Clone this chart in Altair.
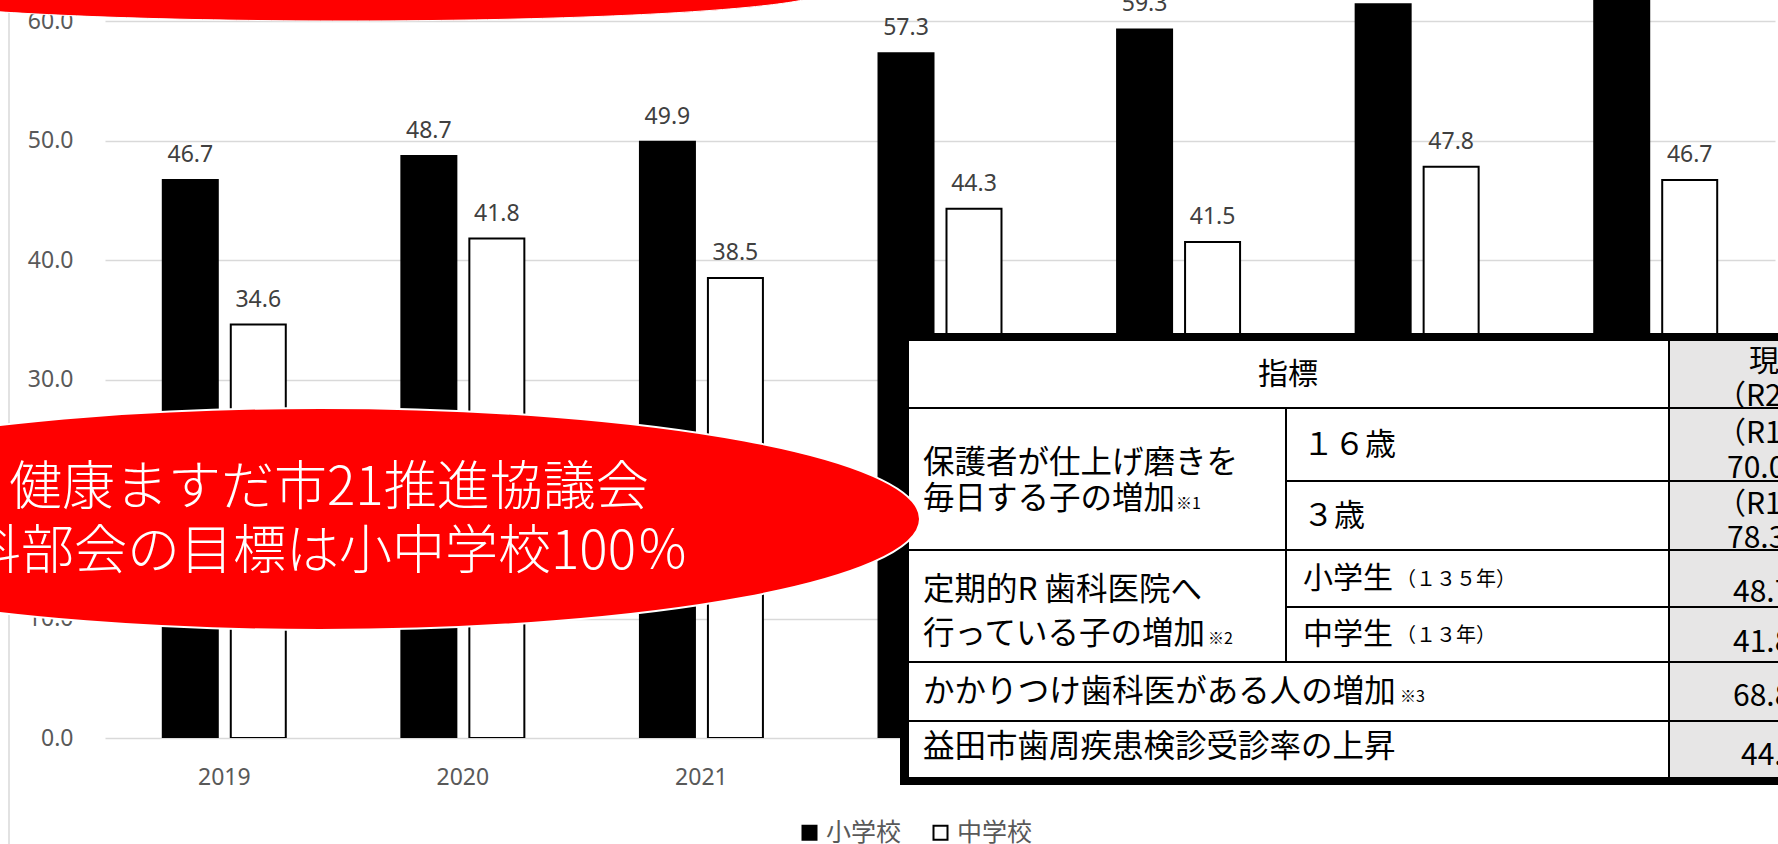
import altair as alt
import pandas as pd

# ---------------- data ----------------
years = ["2019", "2020", "2021", "2022", "2023", "2024", "2025"]
series = ["小学校", "中学校"]
elementary = [46.7, 48.7, 49.9, 57.3, 59.3, 61.4, 63.8]
junior_high = [34.6, 41.8, 38.5, 44.3, 41.5, 47.8, 46.7]
y_ticks = [0, 10, 20, 30, 40, 50, 60]

callout_lines = ["健康ますだ市21推進協議会", "歯科部会の目標は小中学校100％"]

table_texts = [
    "指標",
    "保護者が仕上げ磨きを", "毎日する子の増加", "※1",
    "１６歳", "３歳",
    "定期的R 歯科医院へ", "行っている子の増加", "※2",
    "小学生", "（１３５年）", "中学生", "（１３年）",
    "かかりつけ歯科医がある人の増加", "※3",
    "益田市歯周疾患検診受診率の上昇",
    "現状値", "（R2年度）",
    "（R1年度）", "70.0％", "（R1年度）", "78.3％",
    "48.7％", "41.8％", "68.8％", "44.4％",
]

# ---------------- layout (page pixels) ----------------
PX0 = 105          # page x of plot left edge
W, H = 1670, 738   # plot area
FONT_NUM = "Noto Sans"
FONT_JP = "Noto Sans CJK JP"
GREY = "#595959"

table_pos = [  # (x_left, y_center, fontsize)
    (1258, 373, 30),
    (923, 461, 31.5), (923, 497, 31.5), (1176, 503, 16),
    (1303, 444, 31), (1303, 515, 31),
    (923, 588, 31.5), (923, 632, 31.5), (1208, 638, 16),
    (1303, 577, 30), (1396, 578, 20), (1303, 633, 30), (1396, 634, 20),
    (923, 690, 31.5), (1400, 696, 16),
    (923, 745, 31.5),
    (1749, 360, 30), (1716, 395, 30),
    (1716, 432, 30), (1727, 467, 30), (1716, 503, 30), (1727, 537, 30),
    (1733, 591, 30), (1733, 641, 30), (1733, 695, 30), (1741, 754, 30),
]

table_rects = [  # x1, y1, x2, y2, fill
    (900, 333, 1800, 785, "#000000"),
    (909, 341, 1800, 777, "#ffffff"),
    (1669, 341, 1800, 777, "#e7e6e6"),
]
table_lines = [  # x1, y1, x2, y2
    (909, 408, 1800, 408), (1286, 481, 1800, 481), (909, 550, 1800, 550),
    (1286, 607, 1800, 607), (909, 662, 1800, 662), (909, 721, 1800, 721),
    (1669, 341, 1669, 777), (1286, 408, 1286, 662),
]

# ---------------- tables ----------------
df = pd.DataFrame(
    [{"year": y, "series": series[0], "value": v} for y, v in zip(years, elementary)]
    + [{"year": y, "series": series[1], "value": v} for y, v in zip(years, junior_high)]
)

xo_enc = alt.XOffset("series:N", sort=series, scale=alt.Scale(paddingInner=0.191))

bars = alt.Chart(df).mark_bar(stroke="black", strokeWidth=2, clip=True).encode(
    x=alt.X(
        "year:N", sort=years,
        scale=alt.Scale(paddingInner=0.4845, paddingOuter=0.24225),
        axis=alt.Axis(title=None, labelFontSize=23, labelColor=GREY, labelFont=FONT_NUM,
                      labelPadding=28, ticks=False, domain=False, labelAngle=0, grid=False),
    ),
    xOffset=xo_enc,
    y=alt.Y("value:Q", scale=alt.Scale(domain=[0, 61.76], nice=False, zero=True),
            axis=alt.Axis(title=None, values=y_ticks, format=".1f", grid=True,
                          gridColor="#d9d9d9", gridWidth=1.5, domain=False, ticks=False,
                          labelPadding=32, labelFontSize=23, labelColor=GREY,
                          labelFont=FONT_NUM)),
    color=alt.Color("series:N", sort=series,
                    scale=alt.Scale(domain=series, range=["#000000", "#ffffff"]),
                    legend=alt.Legend(title=None, orient="none", legendX=692, legendY=820,
                                      direction="horizontal", symbolType="square",
                                      symbolSize=196, symbolStrokeColor="black",
                                      symbolStrokeWidth=2, labelFontSize=25,
                                      labelColor=GREY, labelFont=FONT_JP,
                                      labelOffset=4, columnPadding=26, padding=0)),
)

labels = alt.Chart(df).mark_text(dy=-18, baseline="alphabetic", fontSize=23,
                                 color="#404040", font=FONT_NUM, clip=True).encode(
    x=alt.X("year:N", sort=years),
    xOffset=xo_enc,
    y=alt.Y("value:Q"),
    text=alt.Text("value:Q", format=".1f"),
)

# left chart border
border = alt.Chart(pd.DataFrame({"x": [9 - PX0], "y": [0], "y2": [844]})).mark_rule(
    color="#d9d9d9", strokeWidth=1.5).encode(
    x=alt.X("x:Q", scale=None),
    y=alt.Y("y:Q", scale=None),
    y2="y2:Q",
)

rect_df = pd.DataFrame([{"x": a - PX0, "y": b, "x2": c - PX0, "y2": d, "fill": f, "k": i}
                        for i, (a, b, c, d, f) in enumerate(table_rects)])
rects = alt.Chart(rect_df).mark_rect().encode(
    x=alt.X("x:Q", scale=None), x2="x2:Q",
    y=alt.Y("y:Q", scale=None), y2="y2:Q",
    fill=alt.Fill("fill:N", scale=None),
    order=alt.Order("k:Q"),
)

line_df = pd.DataFrame([{"x": a - PX0, "y": b, "x2": c - PX0, "y2": d}
                        for a, b, c, d in table_lines])
lines = alt.Chart(line_df).mark_rule(color="black", strokeWidth=2).encode(
    x=alt.X("x:Q", scale=None), x2="x2:Q",
    y=alt.Y("y:Q", scale=None), y2="y2:Q",
)

ttext_df = pd.DataFrame([{"t": t, "x": p[0] - PX0, "y": p[1] + 0.08 * p[2], "fs": p[2]}
                         for t, p in zip(table_texts, table_pos)])
ttexts = alt.Chart(ttext_df).mark_text(align="left", baseline="middle", font=FONT_JP,
                                       color="black").encode(
    x=alt.X("x:Q", scale=None),
    y=alt.Y("y:Q", scale=None),
    size=alt.Size("fs:Q", scale=None),
    text="t:N",
)

# red callout ellipses
ell_low = alt.Chart(pd.DataFrame({"x": [320 - PX0], "y": [519]})).mark_point(
    shape="M-1,0A1,0.185 0 1,0 1,0A1,0.185 0 1,0 -1,0Z", size=1440000,
    filled=True, fill="#ff0000", stroke="white", strokeWidth=2, opacity=1).encode(
    x=alt.X("x:Q", scale=None), y=alt.Y("y:Q", scale=None))
ell_top = alt.Chart(pd.DataFrame({"x": [345 - PX0], "y": [-9]})).mark_point(
    shape="M-1,0A1,0.0625 0 1,0 1,0A1,0.0625 0 1,0 -1,0Z", size=921600,
    filled=True, fill="#ff0000", stroke="white", strokeWidth=1, opacity=1).encode(
    x=alt.X("x:Q", scale=None), y=alt.Y("y:Q", scale=None))

callout_df = pd.DataFrame({"t": callout_lines, "x": [9 - PX0, -85 - PX0], "y": [489, 553]})
callout = alt.Chart(callout_df).mark_text(align="left", baseline="middle", font=FONT_JP,
                                          fontSize=53, fontWeight=300, color="white").encode(
    x=alt.X("x:Q", scale=None),
    y=alt.Y("y:Q", scale=None),
    text="t:N",
)

chart = alt.layer(bars, labels, border, rects, lines, ttexts, ell_low, ell_top, callout).properties(
    width=W, height=H,
    autosize=alt.AutoSizeParams(type="none"),
    padding={"left": PX0, "top": 0, "right": 3, "bottom": 106},
    background="white",
).configure_view(strokeWidth=0).configure_legend(labelFontSize=25)

chart.save("out.html", embed_options={"renderer": "svg", "actions": False})
